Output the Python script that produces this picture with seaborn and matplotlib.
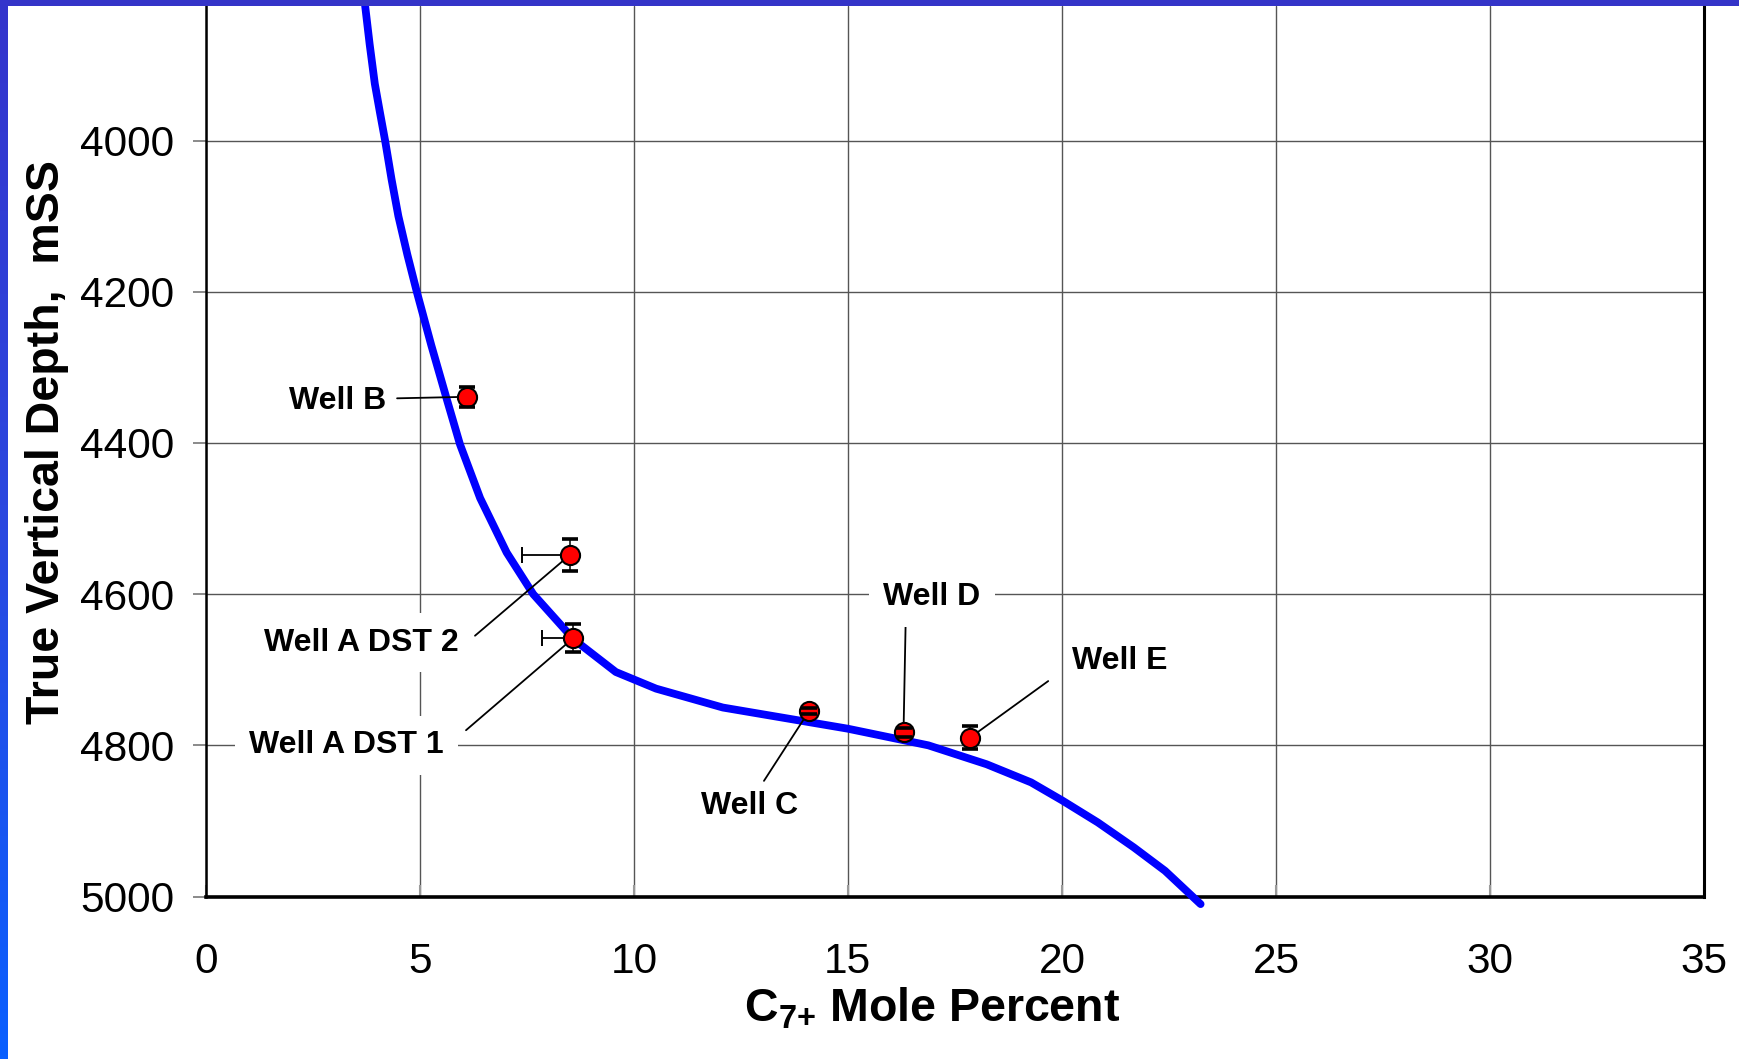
import numpy as np
import matplotlib
matplotlib.use('Agg')
import matplotlib.pyplot as plt
import seaborn as sns
from matplotlib.colors import LinearSegmentedColormap

# ─── Data ──────────────────────────────────────────────────
# fitted gradient curve (C7+ mole %, TVD mSS)
curve_x = [3.72, 3.83, 3.95, 4.07, 4.19, 4.34, 4.50, 4.71, 4.93, 5.27, 5.63,
           5.94, 6.41, 7.03, 7.65, 8.60, 9.58, 10.52, 12.08, 15.00, 16.88,
           18.24, 19.28, 20.01, 20.84, 21.68, 22.41, 23.24]
curve_y = [3820, 3873, 3925, 3963, 4000, 4051, 4100, 4151, 4200, 4271, 4342,
           4402, 4473, 4545, 4600, 4660, 4703, 4725, 4750, 4778, 4800,
           4825, 4849, 4873, 4902, 4935, 4966, 5010]

wells     = ['Well B', 'Well A DST 2', 'Well A DST 1', 'Well C', 'Well D', 'Well E']
well_c7   = [6.11, 8.51, 8.59, 14.09, 16.30, 17.85]
well_tvd  = [4339, 4548, 4658, 4755, 4783, 4790]
well_yerr = [13, 21, 18, 4, 6, 15]
well_xerr_lo = [0, 1.13, 0.73, 0, 0, 0]

# label layout: text centre, leader start, white box or not
label_xy  = [(3.07, 4344), (3.64, 4664), (3.29, 4800), (12.71, 4880),
             (16.96, 4604), (21.34, 4688)]
leader_xy = [(4.47, 4341), (6.29, 4655), (6.08, 4780), (13.04, 4847),
             (16.35, 4637), (19.68, 4715)]
label_box = [False, True, True, False, True, False]

# ─── Style ─────────────────────────────────────────────────
sns.set_style('white')
plt.rcParams['font.family'] = ['Liberation Sans', 'DejaVu Sans']
plt.rcParams['mathtext.fontset'] = 'custom'
plt.rcParams['mathtext.rm'] = 'Liberation Sans'
plt.rcParams['mathtext.bf'] = 'Liberation Sans:bold'
plt.rcParams['text.color'] = 'black'
plt.rcParams['axes.labelcolor'] = 'black'

fig = plt.figure(figsize=(17.39, 10.59), dpi=100)
fig.patch.set_facecolor('white')
ax = fig.add_axes([0.1183, 0.1534, 0.8616, 0.8410])

# gradient curve
sns.lineplot(x=curve_x, y=curve_y, sort=False, ax=ax, color='#0000ff',
             linewidth=5.6, zorder=3, clip_on=False)

# error bars
eb = ax.errorbar(well_c7, well_tvd, yerr=well_yerr, fmt='none', ecolor='black',
                 elinewidth=1.1, capsize=5.6, capthick=2.6, zorder=4)
for cap in eb[1]:
    cap.set_zorder(6)
xe = [(c, t, lo) for c, t, lo in zip(well_c7, well_tvd, well_xerr_lo) if lo > 0]
ax.errorbar([p[0] for p in xe], [p[1] for p in xe],
            xerr=[[p[2] for p in xe], [0] * len(xe)], fmt='none',
            ecolor='black', elinewidth=1.3, capsize=5.8, capthick=1.4, zorder=4)

# well points
sns.scatterplot(x=well_c7, y=well_tvd, ax=ax, color='#ff0000', edgecolor='black',
                linewidth=1.5, s=190, zorder=5, legend=False)

# labels with leader lines
for name, px, py, (tx, ty), (lx, ly), box in zip(wells, well_c7, well_tvd,
                                                  label_xy, leader_xy, label_box):
    ax.annotate('', xy=(px, py), xytext=(lx, ly),
                arrowprops=dict(arrowstyle='-', color='black', lw=1.3,
                                shrinkA=0, shrinkB=0), zorder=4)
    kw = dict(boxstyle='square,pad=0.45', fc='white', ec='none') if box else None
    ax.text(tx, ty, name, ha='center', va='center', fontsize=23,
            fontweight='bold', color='black', bbox=kw, zorder=4.5)

# axes
ax.set_xlim(0, 35)
ax.set_ylim(5000, 3822)
ax.set_xticks(range(0, 36, 5))
ax.set_yticks(range(4000, 5001, 200))
ax.grid(True, color='#555555', linewidth=1.0)
ax.set_axisbelow(True)
ax.tick_params(axis='y', direction='out', length=9.5, width=1.2, color='#777777',
               labelsize=30.5, pad=13, left=True, labelcolor='black')
ax.tick_params(axis='x', direction='in', length=9, width=1.5, color='#999999',
               labelsize=30.5, pad=33, bottom=True, labelcolor='black')

ax.spines['top'].set_visible(False)
ax.spines['left'].set_linewidth(1.8)
ax.spines['bottom'].set_linewidth(2.6)
ax.spines['right'].set_linewidth(2.2)
for sp in ['left', 'bottom', 'right']:
    ax.spines[sp].set_color('black')

ax.set_xlabel(r'C$_{\mathbf{7{+}}}$ Mole Percent', fontsize=33.5,
              fontweight='bold', color='black')
ax.xaxis.set_label_coords(0.4845, -0.1)
ax.set_ylabel('True Vertical Depth,  mSS', fontsize=33.5, fontweight='bold',
              color='black')
ax.yaxis.set_label_coords(-0.091, 0.51)

# slide frame bars (top and left)
top_bar = fig.add_axes([0, 1 - 6 / 1059, 1, 6 / 1059])
top_bar.set_facecolor('#3434c8')
for s in top_bar.spines.values():
    s.set_visible(False)
top_bar.set_xticks([])
top_bar.set_yticks([])

left_bar = fig.add_axes([0, 0, 7 / 1739, 1])
grad = np.linspace(0, 1, 256).reshape(-1, 1)
cmap = LinearSegmentedColormap.from_list('frame', ['#3434cc', '#2a48e0', '#0a60ff'])
left_bar.imshow(grad, aspect='auto', cmap=cmap, extent=[0, 1, 0, 1], origin='upper')
left_bar.axis('off')

plt.savefig('out.png', dpi=100)
